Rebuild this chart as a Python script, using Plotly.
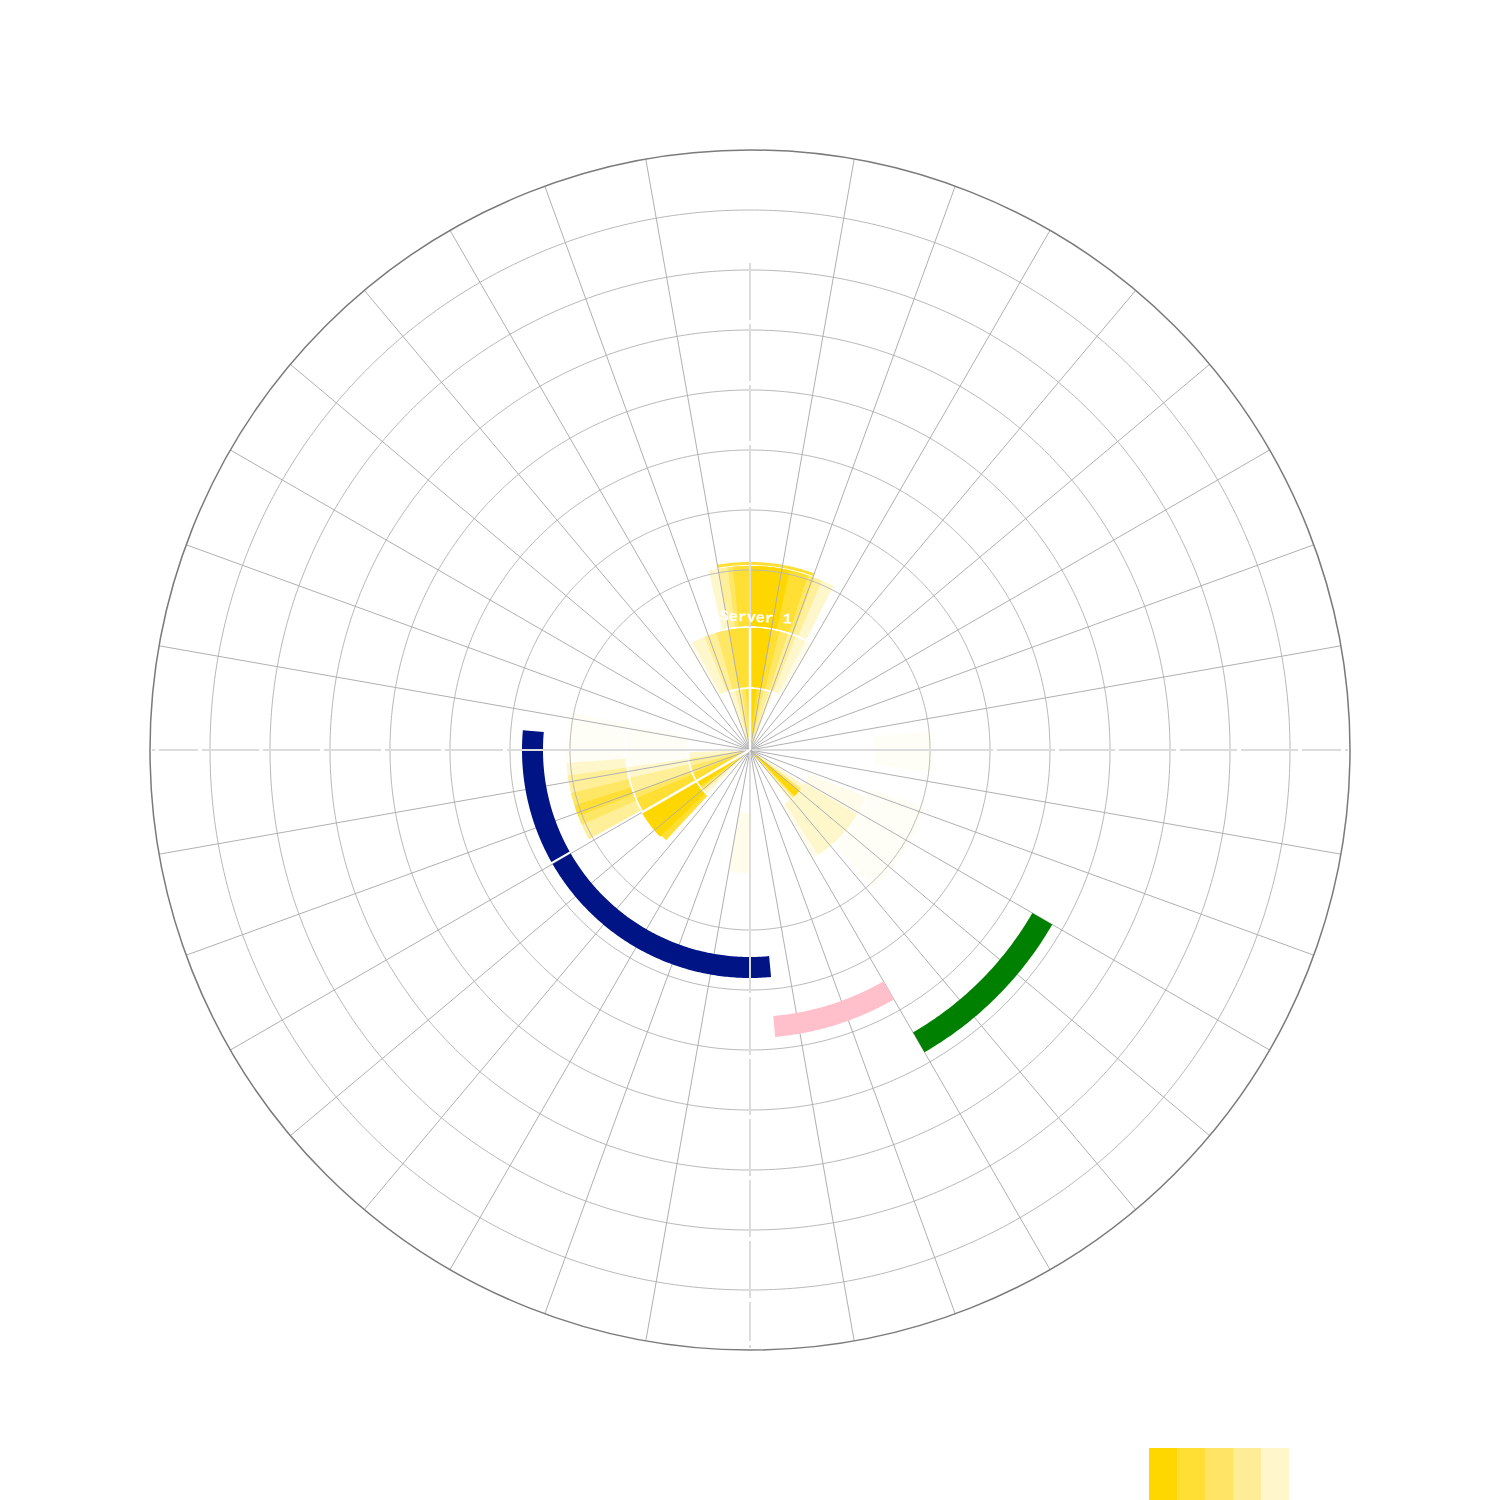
import plotly.graph_objects as go
import numpy as np

# ---------------- data ----------------
# yellow density bands: angular start/end (deg, clockwise from top), inner/outer radius, shade level (1=darkest)
band_start = [-20, -14, -8, -4, 0,
              -30, -28, -22, -16, -10, 0,
              -13, -10, -7, -5.3, 0, -10,
              225, 228, 230, 232, 234,
              225, 223, 223, 223, 223, 226,
              241, 241, 241, 246, 249,
              123, 127, 130,
              112, 121, 126,
              108, 84, 180]
band_end = [22, 18, 13, 9, 6,
            30, 27, 22, 18, 14, 10.4,
            27, 23, 20.5, 18.4, 12.5, 20,
            268, 262, 255, 248, 242,
            282, 262, 257, 250, 247, 240,
            282, 266, 262, 256.5, 252.5,
            142, 138, 136,
            150, 147, 141,
            138, 97, 190]
band_inner = [0, 0, 0, 0, 0,
              63, 63, 63, 63, 63, 63,
              124, 124, 124, 124, 124, 185,
              0, 0, 0, 0, 0,
              63, 63, 63, 63, 63, 63,
              125, 125, 125, 125, 125,
              0, 0, 0,
              64, 64, 64,
              127, 124, 63]
band_outer = [61, 61, 61, 61, 61,
              122, 122, 122, 122, 122, 122,
              184, 184, 184, 184, 184, 188,
              61, 61, 61, 61, 61,
              123, 123, 123, 123, 123, 125,
              184, 184, 184, 184, 184,
              64, 64, 64,
              125, 125, 125,
              185, 184, 123]
band_shade = [5, 4, 3, 2, 1,
              6, 5, 4, 3, 2, 1,
              5, 4, 3, 2, 1, 2,
              5, 4, 3, 2, 1,
              7, 5, 4, 3, 2, 1,
              7, 5, 4, 3, 2,
              5, 3, 1,
              6, 5, 5,
              7, 7, 6]

# timeline arcs
arc_start = [174.7, 240.6, 150, 120]
arc_end = [240, 275, 175, 150]
arc_inner = [207, 207, 267, 326]
arc_outer = [228, 228, 288, 349]
arc_color = ['#001486', '#001486', '#FFC0CB', '#008000']

# highlighted needles
needle_theta = [0, 240]
needle_len = [123, 125]

label_text = "Server 1"

legend_colors = ['#FFD700', '#FFDF33', '#FFE466', '#FFEC96', '#FFF6CC']

grid_radii = [180, 240, 300, 360, 420, 480, 540]
r_max = 600

shade_colors = ['#FFD700', '#FFDF33', '#FFE766', '#FFEF99', '#FFF7CC', '#FFFCEC', '#FFFEF6']


def sector(t0, t1, r0, r1):
    n = max(int(abs(t1 - t0) / 0.5), 2) + 1
    ts = list(np.linspace(t0, t1, n))
    if r0 <= 0:
        th = ts + [t0]
        rr = [r1] * n + [0]
    else:
        th = ts + ts[::-1] + [t0]
        rr = [r1] * n + [r0] * n + [r1]
    return th, rr


fig = go.Figure()

# yellow bands, lightest first
for s in [7, 6, 5, 4, 3, 2, 1]:
    for i, v in enumerate(band_shade):
        if v != s:
            continue
        th, rr = sector(band_start[i], band_end[i], band_inner[i], band_outer[i])
        fig.add_trace(go.Scatterpolar(theta=th, r=rr, mode='lines', fill='toself',
                                      fillcolor=shade_colors[s - 1],
                                      line=dict(width=0, color=shade_colors[s - 1]),
                                      hoverinfo='skip', showlegend=False))

# grid circles
circ_t = np.linspace(0, 360, 721)
for rr in grid_radii:
    fig.add_trace(go.Scatterpolar(theta=circ_t, r=[rr] * len(circ_t), mode='lines',
                                  line=dict(color='#b8b8b8', width=1),
                                  hoverinfo='skip', showlegend=False))

# spokes
sp_t, sp_r = [], []
for a in range(10, 360, 10):
    if a % 90 == 0:
        continue
    sp_t += [a, a, None]
    sp_r += [0, r_max, None]
fig.add_trace(go.Scatterpolar(theta=sp_t, r=sp_r, mode='lines',
                              line=dict(color='#b0b0b0', width=1),
                              hoverinfo='skip', showlegend=False))

# timeline arcs
for i in range(len(arc_start)):
    th, rr = sector(arc_start[i], arc_end[i], arc_inner[i], arc_outer[i])
    fig.add_trace(go.Scatterpolar(theta=th, r=rr, mode='lines', fill='toself',
                                  fillcolor=arc_color[i],
                                  line=dict(width=0, color=arc_color[i]),
                                  hoverinfo='skip', showlegend=False))

# main axes (light grey with small gaps)
gaps = [245, 307, 367, 428, 489, 550, 593]
ax_t, ax_r = [], []
for a, lim in [(0, 488), (90, 598), (180, 598), (270, 598)]:
    pos = 2
    for g in gaps:
        if g - 2 > lim:
            break
        ax_t += [a, a, None]
        ax_r += [pos, g - 2, None]
        pos = g + 2
    if pos < lim:
        ax_t += [a, a, None]
        ax_r += [pos, lim, None]
fig.add_trace(go.Scatterpolar(theta=ax_t, r=ax_r, mode='lines',
                              line=dict(color='#dcdcdc', width=2),
                              hoverinfo='skip', showlegend=False))

# needles
for t, l in zip(needle_theta, needle_len):
    fig.add_trace(go.Scatterpolar(theta=[t, t], r=[0, l], mode='lines',
                                  line=dict(color='white', width=2.5),
                                  hoverinfo='skip', showlegend=False))

# label
ang = 2.7
rad = 132
lx = 750 + rad * np.sin(np.radians(ang))
ly = 750 - rad * np.cos(np.radians(ang))
fig.add_annotation(x=lx / 1500, y=1 - ly / 1500, xref='paper', yref='paper',
                   text=label_text, showarrow=False, textangle=ang,
                   font=dict(family='Liberation Mono', size=15, color='white', weight='bold'),
                   xanchor='center', yanchor='middle')

# colour legend swatches
for i, c in enumerate(legend_colors):
    x0 = 1149 + 28 * i
    fig.add_shape(type='rect', xref='paper', yref='paper',
                  x0=x0 / 1500, x1=(x0 + 28) / 1500,
                  y0=1 - 1448 / 1500, y1=-0.02,
                  fillcolor=c, line=dict(width=0))

fig.update_layout(
    width=1500, height=1500,
    margin=dict(l=0, r=0, t=0, b=0),
    paper_bgcolor='white', plot_bgcolor='white',
    showlegend=False,
    polar=dict(
        domain=dict(x=[0.1, 0.9], y=[0.1, 0.9]),
        bgcolor='white',
        radialaxis=dict(range=[0, r_max], showgrid=False, showticklabels=False,
                        showline=False, ticks=''),
        angularaxis=dict(direction='clockwise', rotation=90, showgrid=False,
                         showticklabels=False, ticks='', showline=True,
                         linecolor='#7a7a7a', linewidth=1.5),
    ),
)

fig.write_html("out.html")
